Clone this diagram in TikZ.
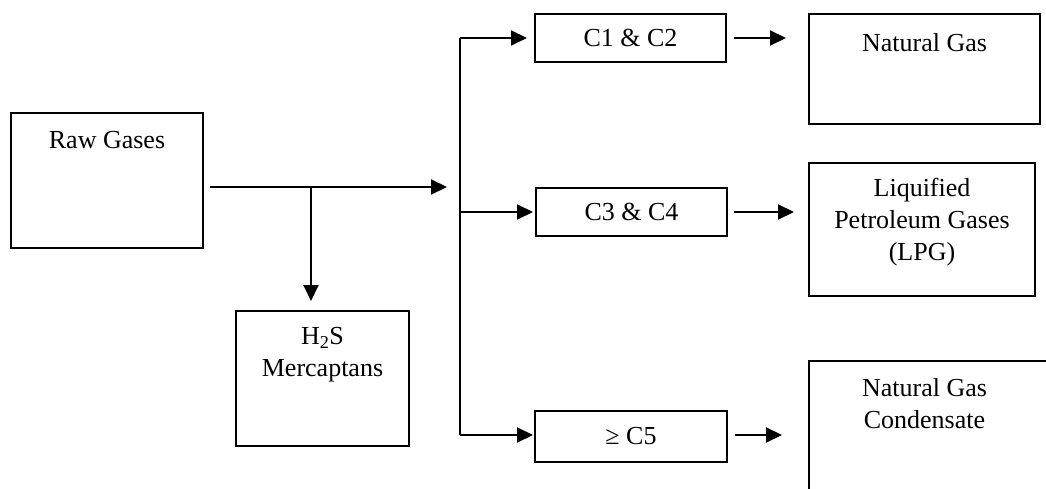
\documentclass[tikz,border=0pt]{standalone}
\usepackage{fontspec}
\setmainfont{Liberation Serif}
\usetikzlibrary{arrows.meta,calc}
\begin{document}
\begin{tikzpicture}[x=1pt,y=-1pt,
  box/.style={draw,line width=2pt,inner sep=0pt},
  txt/.style={font=\fontsize{26}{32}\selectfont,align=center,inner sep=0pt},
  line/.style={line width=2pt},
  arr/.style={line width=2pt,-{Triangle[length=16pt,width=15pt]}}]
\useasboundingbox (0,0) rectangle (1046,489);
\clip (0,0) rectangle (1046,489);
% boxes
\node[box,minimum width=192,minimum height=135] (raw) at (107,180.5) {};
\node[txt] (rawt) at (107,140) {Raw Gases};
\node[box,minimum width=173,minimum height=135] (hs) at (322.5,378.5) {};
\node[txt] (hst) at (322.5,355) {H\textsubscript{2}S\\Mercaptans};
\node[box,minimum width=191,minimum height=48] (c12) at (630.5,38) {};
\node[txt] at (c12) {C1 \& C2};
\node[box,minimum width=191,minimum height=48] (c34) at (631.5,212) {};
\node[txt] at (c34) {C3 \& C4};
\node[box,minimum width=192,minimum height=51] (c5) at (631,436.5) {};
\node[txt] at (c5) {≥ C5};
\node[box,minimum width=231,minimum height=110] (ng) at (924.5,69) {};
\node[txt] (ngt) at (924.5,43) {Natural Gas};
\node[box,minimum width=226,minimum height=133] (lpg) at (922,229.5) {};
\node[txt] (lpgt) at (922,222) {Liquified\\Petroleum Gases\\(LPG)};
\node[box,minimum width=250,minimum height=160] (ngc) at (934,441) {};
\node[txt] (ngct) at (924.5,404) {Natural Gas\\Condensate};
% connectors
\coordinate (m0) at (210,187);
\coordinate (sp) at (311,187);
\coordinate (m1) at (447,187);
\coordinate (bt) at (460,38);
\coordinate (bb) at (460,435);
\draw[arr] (m0) -- (m1);
\draw[arr,shorten >=9pt] (sp) -- (sp |- hs.north);
\draw[line] (bt) -- (bb);
\draw[arr,shorten >=7pt] (bt) -- (bt -| c12.west);
\draw[arr,shorten >=2pt] (bt |- c34.west) -- (c34.west);
\draw[arr,shorten >=1pt] (bb) -- (bb -| c5.west);
\draw[arr,shorten <=7pt,shorten >=22pt] (c12.east) -- (c12.east -| ng.west);
\draw[arr,shorten <=6pt,shorten >=14pt] (c34.east) -- (c34.east -| lpg.west);
\draw[arr,shorten <=7pt,shorten >=26pt] (bb -| c5.east) -- (bb -| ngc.west);
\end{tikzpicture}
\end{document}
